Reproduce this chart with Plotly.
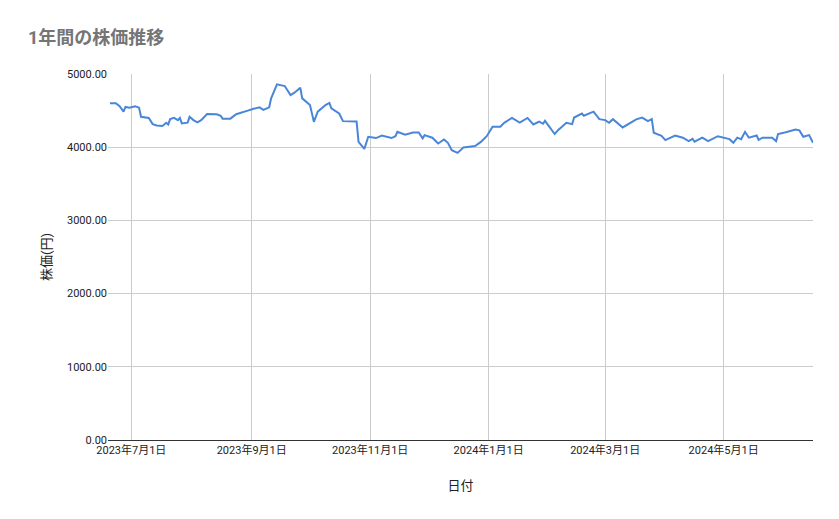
import plotly.graph_objects as go

dates = ["2023-06-20","2023-06-23","2023-06-25","2023-06-27","2023-06-28","2023-06-30","2023-07-03","2023-07-05","2023-07-06","2023-07-10",
"2023-07-12","2023-07-14","2023-07-17","2023-07-19","2023-07-20","2023-07-21","2023-07-23","2023-07-25","2023-07-26","2023-07-27",
"2023-07-30","2023-07-31","2023-08-02","2023-08-04","2023-08-06","2023-08-09","2023-08-14","2023-08-16","2023-08-17","2023-08-21",
"2023-08-24","2023-08-27","2023-08-30","2023-09-02","2023-09-05","2023-09-07","2023-09-10","2023-09-11","2023-09-14","2023-09-18",
"2023-09-21","2023-09-23","2023-09-26","2023-09-27","2023-10-01","2023-10-03","2023-10-05","2023-10-09","2023-10-11","2023-10-12",
"2023-10-16","2023-10-18","2023-10-25","2023-10-26","2023-10-29","2023-10-31","2023-11-04","2023-11-07","2023-11-12","2023-11-14",
"2023-11-15","2023-11-19","2023-11-23","2023-11-26","2023-11-28","2023-11-29","2023-12-03","2023-12-06","2023-12-09","2023-12-11",
"2023-12-13","2023-12-16","2023-12-19","2023-12-22","2023-12-25","2023-12-28","2023-12-31","2024-01-03","2024-01-07","2024-01-09",
"2024-01-13","2024-01-17","2024-01-21","2024-01-24","2024-01-27","2024-01-29","2024-01-30","2024-02-04","2024-02-06","2024-02-10",
"2024-02-13","2024-02-14","2024-02-18","2024-02-19","2024-02-24","2024-02-27","2024-03-01","2024-03-03","2024-03-05","2024-03-10",
"2024-03-17","2024-03-20","2024-03-23","2024-03-25","2024-03-26","2024-03-30","2024-04-01","2024-04-06","2024-04-10","2024-04-13",
"2024-04-15","2024-04-16","2024-04-20","2024-04-23","2024-04-28","2024-05-04","2024-05-06","2024-05-08","2024-05-10","2024-05-12",
"2024-05-14","2024-05-18","2024-05-19","2024-05-21","2024-05-26","2024-05-28","2024-05-29","2024-06-02","2024-06-07","2024-06-09",
"2024-06-11","2024-06-14","2024-06-16"]

prices = [4600,4600,4560,4485,4550,4540,4560,4540,4415,4400,
4315,4297,4290,4333,4310,4383,4400,4370,4400,4325,
4335,4415,4370,4340,4370,4452,4450,4430,4390,4390,
4450,4470,4500,4525,4545,4510,4545,4667,4858,4835,
4712,4745,4813,4667,4575,4347,4485,4575,4605,4530,
4460,4356,4350,4073,3977,4142,4125,4160,4125,4150,
4210,4170,4200,4200,4120,4165,4130,4050,4105,4060,
3960,3922,3995,4005,4015,4073,4150,4280,4280,4333,
4400,4335,4400,4310,4350,4320,4360,4180,4240,4333,
4315,4405,4460,4430,4485,4383,4370,4333,4383,4270,
4380,4405,4355,4383,4197,4155,4097,4160,4130,4082,
4115,4075,4130,4082,4150,4110,4060,4130,4110,4210,
4130,4160,4100,4130,4130,4082,4180,4205,4240,4230,
4142,4165,4060]

tick_vals = ["2023-07-01","2023-09-01","2023-11-01","2024-01-01","2024-03-01","2024-05-01"]
tick_text = ["2023年7月1日","2023年9月1日","2023年11月1日","2024年1月1日","2024年3月1日","2024年5月1日"]
y_ticks = [0,1000,2000,3000,4000,5000]
y_text = ["0.00","1000.00","2000.00","3000.00","4000.00","5000.00"]

fig = go.Figure(go.Scatter(x=dates, y=prices, mode="lines",
                           line=dict(color="#4a86d8", width=2)))
fig.update_layout(
    width=831, height=511, paper_bgcolor="white", plot_bgcolor="white",
    margin=dict(l=100, r=26, t=66, b=79),
    font=dict(family="Roboto, 'Noto Sans CJK JP'", size=11, color="#222"),
    title=dict(text="<b>1年間の株価推移</b>", x=0.024, y=0.941, xanchor="left", yanchor="middle",
               font=dict(size=18, color="#757575", family="Roboto, 'Noto Sans CJK JP'")),
    showlegend=False,
)
fig.update_xaxes(range=["2023-06-19","2024-06-16"], tickvals=tick_vals, ticktext=tick_text,
                 showgrid=True, gridcolor="#cccccc", showline=True, linecolor="#333",
                 ticks="", title=dict(text="日付", standoff=24), zeroline=False,
                 tickfont=dict(size=11))
fig.update_yaxes(range=[0,5000], tickvals=y_ticks, ticktext=y_text, showgrid=True,
                 gridcolor="#cccccc", zeroline=False, title=dict(text="株価(円)", standoff=12),
                 tickfont=dict(size=11))
fig.write_html("out.html")
